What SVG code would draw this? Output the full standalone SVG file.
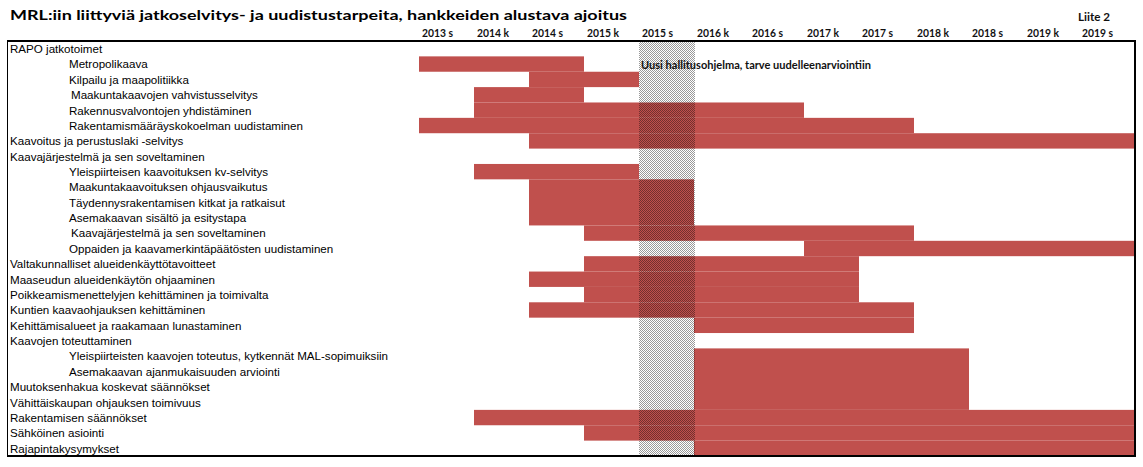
<svg xmlns="http://www.w3.org/2000/svg" width="1143" height="467" viewBox="0 0 1143 467">
<style>
.title{font-family:Lato,"Open Sans",sans-serif;font-weight:bold;font-size:14px;fill:#000}
.hdr{font-family:Lato,"Open Sans",sans-serif;font-weight:bold;font-size:11px;fill:#111}
.lbl{font-family:"Liberation Sans",Arial,sans-serif;font-size:11.6px;fill:#000}
.note{font-family:Lato,"Open Sans",sans-serif;font-weight:bold;font-size:11px;fill:#111}
.bar{fill:#c0504d}
.frame{fill:none;stroke:#000}
</style>
<defs>
<pattern id="hatch" x="0" y="0" width="2" height="2" patternUnits="userSpaceOnUse">
<rect x="0" y="0" width="1" height="1" fill="#000" fill-opacity="0.4"/>
<rect x="1" y="1" width="1" height="1" fill="#000" fill-opacity="0.4"/>
</pattern>
</defs>
<rect width="1143" height="467" fill="#fff"/>
<text class="title" x="10" y="20" textLength="617" lengthAdjust="spacingAndGlyphs">MRL:iin liittyviä jatkoselvitys- ja uudistustarpeita, hankkeiden alustava ajoitus</text>
<text class="hdr" x="1078" y="21" textLength="32" lengthAdjust="spacingAndGlyphs">Liite 2</text>
<g id="timeline-header">
<text class="hdr" x="422" y="37" textLength="31" lengthAdjust="spacingAndGlyphs">2013 s</text>
<text class="hdr" x="477" y="37" textLength="32" lengthAdjust="spacingAndGlyphs">2014 k</text>
<text class="hdr" x="532" y="37" textLength="31" lengthAdjust="spacingAndGlyphs">2014 s</text>
<text class="hdr" x="587" y="37" textLength="32" lengthAdjust="spacingAndGlyphs">2015 k</text>
<text class="hdr" x="642" y="37" textLength="31" lengthAdjust="spacingAndGlyphs">2015 s</text>
<text class="hdr" x="697" y="37" textLength="32" lengthAdjust="spacingAndGlyphs">2016 k</text>
<text class="hdr" x="752" y="37" textLength="31" lengthAdjust="spacingAndGlyphs">2016 s</text>
<text class="hdr" x="807" y="37" textLength="32" lengthAdjust="spacingAndGlyphs">2017 k</text>
<text class="hdr" x="862" y="37" textLength="31" lengthAdjust="spacingAndGlyphs">2017 s</text>
<text class="hdr" x="917" y="37" textLength="32" lengthAdjust="spacingAndGlyphs">2018 k</text>
<text class="hdr" x="972" y="37" textLength="31" lengthAdjust="spacingAndGlyphs">2018 s</text>
<text class="hdr" x="1027" y="37" textLength="32" lengthAdjust="spacingAndGlyphs">2019 k</text>
<text class="hdr" x="1082" y="37" textLength="31" lengthAdjust="spacingAndGlyphs">2019 s</text>
</g>
<g id="bars">
<rect class="bar" x="419" y="56.37" width="165" height="15.37"/>
<rect class="bar" x="529" y="71.74" width="110" height="15.37"/>
<rect class="bar" x="474" y="87.11" width="110" height="15.37"/>
<rect class="bar" x="474" y="102.48" width="330" height="15.37"/>
<rect class="bar" x="419" y="117.85" width="495" height="15.37"/>
<rect class="bar" x="529" y="133.22" width="605" height="15.37"/>
<rect class="bar" x="474" y="163.96" width="165" height="15.37"/>
<rect class="bar" x="529" y="179.33" width="165" height="46.11"/>
<rect class="bar" x="584" y="225.44" width="330" height="15.37"/>
<rect class="bar" x="804" y="240.81" width="330" height="15.37"/>
<rect class="bar" x="584" y="256.18" width="275" height="15.37"/>
<rect class="bar" x="529" y="271.55" width="330" height="15.37"/>
<rect class="bar" x="584" y="286.92" width="275" height="15.37"/>
<rect class="bar" x="529" y="302.29" width="385" height="15.37"/>
<rect class="bar" x="694" y="317.66" width="220" height="15.37"/>
<rect class="bar" x="694" y="348.40" width="275" height="61.48"/>
<rect class="bar" x="474" y="409.88" width="660" height="15.37"/>
<rect class="bar" x="584" y="425.25" width="550" height="15.37"/>
<rect class="bar" x="694" y="440.62" width="440" height="15.37"/>
</g>
<rect id="hallitusohjelma-period" x="639" y="41" width="56" height="415" fill="url(#hatch)"/>
<path class="frame" d="M7.5 41.5V456" stroke-width="1"/>
<path class="frame" d="M7 41H1135V456H7" stroke-width="2"/>
<text class="note" x="641" y="68.5" textLength="230" lengthAdjust="spacingAndGlyphs">Uusi hallitusohjelma, tarve uudelleenarviointiin</text>
<g id="labels">
<g id="row-0"><text class="lbl" x="10" y="53">RAPO jatkotoimet</text></g>
<g id="row-1"><text class="lbl" x="69" y="68.4">Metropolikaava</text></g>
<g id="row-2"><text class="lbl" x="69" y="83.7">Kilpailu ja maapolitiikka</text></g>
<g id="row-3"><text class="lbl" x="71" y="99.1">Maakuntakaavojen vahvistusselvitys</text></g>
<g id="row-4"><text class="lbl" x="69" y="114.5">Rakennusvalvontojen yhdistäminen</text></g>
<g id="row-5"><text class="lbl" x="69" y="129.9">Rakentamismääräyskokoelman uudistaminen</text></g>
<g id="row-6"><text class="lbl" x="10" y="145.2">Kaavoitus ja perustuslaki -selvitys</text></g>
<g id="row-7"><text class="lbl" x="10" y="160.6">Kaavajärjestelmä ja sen soveltaminen</text></g>
<g id="row-8"><text class="lbl" x="69" y="176">Yleispiirteisen kaavoituksen kv-selvitys</text></g>
<g id="row-9"><text class="lbl" x="69" y="191.3">Maakuntakaavoituksen ohjausvaikutus</text></g>
<g id="row-10"><text class="lbl" x="69" y="206.7">Täydennysrakentamisen kitkat ja ratkaisut</text></g>
<g id="row-11"><text class="lbl" x="69" y="222.1">Asemakaavan sisältö ja esitystapa</text></g>
<g id="row-12"><text class="lbl" x="71" y="237.4">Kaavajärjestelmä ja sen soveltaminen</text></g>
<g id="row-13"><text class="lbl" x="69" y="252.8">Oppaiden ja kaavamerkintäpäätösten uudistaminen</text></g>
<g id="row-14"><text class="lbl" x="10" y="268.2">Valtakunnalliset alueidenkäyttötavoitteet</text></g>
<g id="row-15"><text class="lbl" x="10" y="283.6">Maaseudun alueidenkäytön ohjaaminen</text></g>
<g id="row-16"><text class="lbl" x="10" y="298.9">Poikkeamismenettelyjen kehittäminen ja toimivalta</text></g>
<g id="row-17"><text class="lbl" x="10" y="314.3">Kuntien kaavaohjauksen kehittäminen</text></g>
<g id="row-18"><text class="lbl" x="10" y="329.7">Kehittämisalueet ja raakamaan lunastaminen</text></g>
<g id="row-19"><text class="lbl" x="10" y="345">Kaavojen toteuttaminen</text></g>
<g id="row-20"><text class="lbl" x="69" y="360.4">Yleispiirteisten kaavojen toteutus, kytkennät MAL-sopimuiksiin</text></g>
<g id="row-21"><text class="lbl" x="69" y="375.8">Asemakaavan ajanmukaisuuden arviointi</text></g>
<g id="row-22"><text class="lbl" x="10" y="391.1">Muutoksenhakua koskevat säännökset</text></g>
<g id="row-23"><text class="lbl" x="10" y="406.5">Vähittäiskaupan ohjauksen toimivuus</text></g>
<g id="row-24"><text class="lbl" x="10" y="421.9">Rakentamisen säännökset</text></g>
<g id="row-25"><text class="lbl" x="10" y="437.3">Sähköinen asiointi</text></g>
<g id="row-26"><text class="lbl" x="10" y="452.6">Rajapintakysymykset</text></g>
</g>
</svg>
